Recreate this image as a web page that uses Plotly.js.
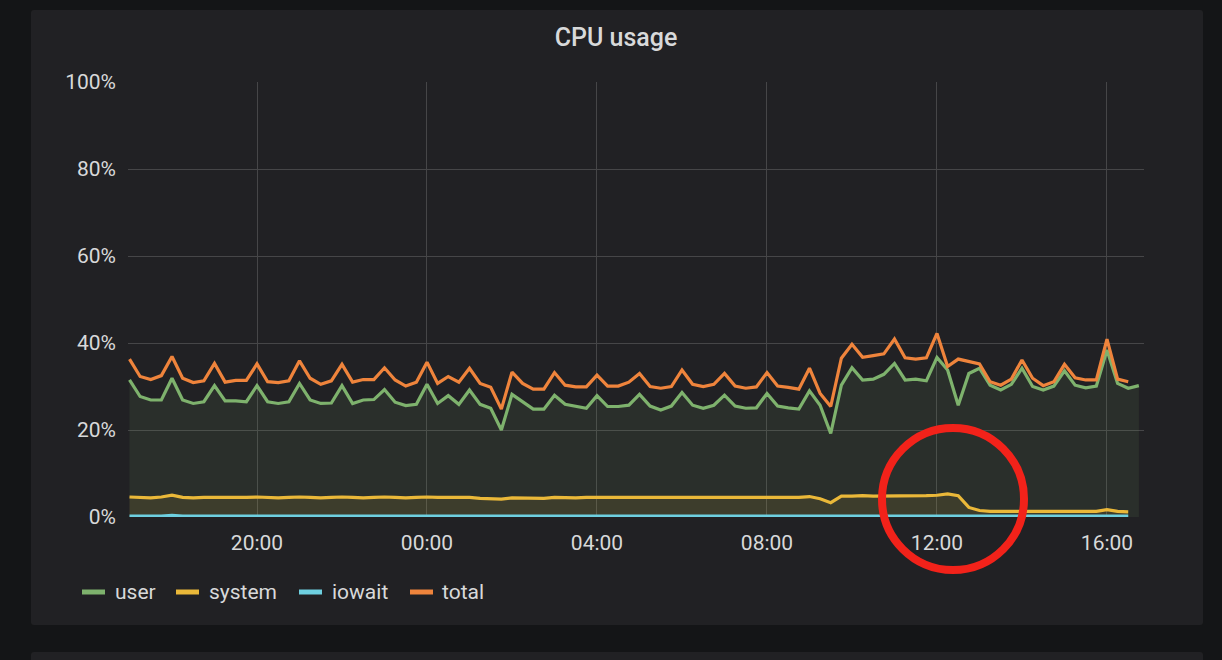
<!DOCTYPE html>
<html><head><meta charset="utf-8">
<script src="https://cdn.plot.ly/plotly-3.0.1.min.js"></script>
<style>
html,body{margin:0;padding:0;background:#141517;width:1222px;height:660px;overflow:hidden}
#panel{position:absolute;left:31px;top:10px;width:1172px;height:615px;background:#212124;border-radius:3px}
#panel2{position:absolute;left:31px;top:652px;width:1172px;height:40px;background:#212124;border-radius:3px}
#chart{position:absolute;left:0;top:0;width:1222px;height:660px}
</style></head><body>
<div id="panel"></div><div id="panel2"></div><div id="chart"></div>
<script>
// ---- data (percent), one sample every 15 minutes starting 17:00 ----
const seriesNames = ["user", "system", "iowait", "total"];
const seriesColors = ["#7EB26D", "#EAB839", "#6ED0E0", "#EF843C"];

const user = [
31.5,27.7,26.9,26.9,31.9,26.9,26.1,26.5,30.2,26.7,26.7,26.5,30.2,26.5,26.1,26.5,
30.7,26.9,26.1,26.2,30.2,26.1,26.9,27.0,29.3,26.4,25.6,25.9,30.5,26.1,27.9,25.9,
29.2,25.9,25.0,20.0,28.2,26.5,24.8,24.8,28.0,25.9,25.4,25.0,27.9,25.4,25.4,25.7,
28.2,25.5,24.6,25.5,28.6,25.7,25.0,25.7,28.0,25.5,25.0,25.1,28.4,25.5,25.1,24.8,
29.0,25.7,19.2,30.3,34.3,31.5,31.7,32.8,35.3,31.5,31.7,31.3,36.7,33.8,25.7,33.0,
34.2,30.3,29.2,30.5,34.2,30.0,29.2,30.1,33.6,30.3,29.7,30.1,38.4,30.7,29.6,30.2];

const total = [
36.3,32.3,31.6,32.5,36.9,31.9,30.9,31.3,35.3,31.0,31.4,31.4,35.2,31.1,30.9,31.3,
35.9,31.9,30.5,31.3,35.1,31.0,31.6,31.6,34.3,31.5,30.1,31.0,35.6,30.7,32.3,31.0,
34.2,30.7,29.8,24.8,33.3,30.7,29.4,29.4,33.2,30.3,29.9,29.9,32.6,30.1,30.1,31.0,
33.0,30.0,29.6,30.0,33.8,30.5,30.0,30.5,33.0,30.1,29.6,29.9,33.2,30.1,29.8,29.4,
34.2,28.4,25.4,36.5,39.7,36.7,37.1,37.5,40.9,36.6,36.3,36.6,42.2,34.6,36.3,35.7,
35.2,31.1,30.3,31.7,36.1,31.9,30.2,31.1,35.1,32.0,31.5,31.5,40.9,31.7,31.1];

const system = [
4.6,4.5,4.4,4.6,5.0,4.5,4.4,4.5,4.5,4.4,4.5,4.5,4.6,4.5,4.4,4.5,
4.6,4.5,4.4,4.5,4.6,4.5,4.4,4.5,4.6,4.5,4.4,4.5,4.6,4.5,4.5,4.4,
4.5,4.3,4.2,4.1,4.4,4.4,4.3,4.3,4.5,4.4,4.4,4.5,4.5,4.4,4.4,4.5,
4.5,4.4,4.4,4.4,4.5,4.4,4.4,4.5,4.5,4.4,4.4,4.4,4.5,4.4,4.4,4.5,
4.7,4.2,3.3,4.8,4.8,4.9,4.8,4.8,4.8,4.8,4.8,4.9,5.0,5.3,4.9,2.2,
1.5,1.3,1.3,1.3,1.3,1.3,1.3,1.4,1.3,1.3,1.3,1.3,1.7,1.3,1.2];

const iowait = [
0.2,0.2,0.2,0.2,0.4,0.2,0.2,0.2,0.2,0.2,0.2,0.2,0.2,0.2,0.2,0.2,
0.2,0.2,0.2,0.2,0.2,0.2,0.2,0.2,0.2,0.2,0.2,0.2,0.2,0.2,0.2,0.2,
0.2,0.2,0.2,0.2,0.2,0.2,0.2,0.2,0.2,0.2,0.2,0.2,0.2,0.2,0.2,0.2,
0.2,0.2,0.2,0.2,0.2,0.2,0.2,0.2,0.2,0.2,0.2,0.2,0.2,0.2,0.2,0.2,
0.2,0.35,0.35,0.2,0.2,0.2,0.2,0.2,0.2,0.2,0.2,0.2,0.3,0.2,0.3,0.2,
0.2,0.2,0.2,0.2,0.2,0.2,0.2,0.2,0.2,0.2,0.2,0.2,0.3,0.2,0.2];

const yTickVals = [0, 20, 40, 60, 80, 100];
const yTickText = ["0%", "20%", "40%", "60%", "80%", "100%"];

// timestamps
function pad(n){return (n<10?"0":"")+n;}
function stamp(i){
  const m = 17*60 + 15*i;
  const d = 11 + Math.floor(m/1440);
  const mm = m % 1440;
  return "2019-03-" + pad(d) + " " + pad(Math.floor(mm/60)) + ":" + pad(mm%60);
}
function times(n){const a=[];for(let i=0;i<n;i++)a.push(stamp(i));return a;}

function fillOf(hex){
  const r=parseInt(hex.slice(1,3),16),g=parseInt(hex.slice(3,5),16),b=parseInt(hex.slice(5,7),16);
  return "rgba("+r+","+g+","+b+",0.1)";
}

const values = [user, system, iowait, total];
const traces = values.map((v, i) => ({
  type: "scatter", mode: "lines", name: seriesNames[i],
  x: times(v.length), y: v,
  line: {color: seriesColors[i], width: 3.2},
  fill: i < 3 ? "tozeroy" : "none",
  fillcolor: fillOf(seriesColors[i]),
  showlegend: false, hoverinfo: "skip"
}));

// plot area in pixels
const L = 128, R = 1144, T = 82, B = 517;
const W = R - L, H = B - T;
const px = x => (x - L) / W;
const py = y => (B - y) / H;

const textColor = "#d8d9da";
const font = "Roboto, 'Open Sans', sans-serif";

// custom legend
const legX = [82, 176, 299, 410];
const legTX = [113, 207, 330, 440];
const legY = 592;
const shapes = [];
const annotations = [];
seriesNames.forEach((n, i) => {
  shapes.push({type: "rect", xref: "paper", yref: "paper",
    xsizemode: "pixel", ysizemode: "pixel",
    xanchor: px(legX[i]), yanchor: py(legY),
    x0: 0, x1: 23, y0: -2.5, y1: 2.5,
    fillcolor: seriesColors[i], line: {width: 0}});
  annotations.push({xref: "paper", yref: "paper", x: px(legTX[i]), y: py(legY),
    xanchor: "left", yanchor: "middle", showarrow: false, text: n,
    font: {family: font, size: 21, color: textColor}});
});
// red highlight ring
shapes.push({type: "circle", xref: "paper", yref: "paper",
  xsizemode: "pixel", ysizemode: "pixel",
  xanchor: px(953), yanchor: py(499),
  x0: -71, x1: 71, y0: -71, y1: 71,
  line: {color: "#f2221a", width: 8}, layer: "above"});

const layout = {
  width: 1222, height: 660,
  margin: {l: L, r: 1222 - R, t: T, b: 660 - B, pad: 0},
  paper_bgcolor: "rgba(0,0,0,0)", plot_bgcolor: "rgba(0,0,0,0)",
  font: {family: font, color: textColor, size: 21},
  title: {text: "CPU usage", x: 616/1222, xref: "container", xanchor: "center",
          y: 1 - 37/660, yref: "container", yanchor: "middle",
          font: {family: font, size: 25, color: textColor, weight: 500}},
  xaxis: {type: "date", range: ["2019-03-11 16:57:53", "2019-03-12 16:52:16"],
          tickformat: "%H:%M", dtick: 4*3600*1000, tick0: "2019-03-11 00:00",
          showgrid: true, gridcolor: "#464648", gridwidth: 1, zeroline: false,
          showline: false, ticks: "", ticklabelstandoff: 11,
          tickfont: {family: font, size: 21, color: textColor}},
  yaxis: {range: [0, 100], tickmode: "array", tickvals: yTickVals, ticktext: yTickText,
          showgrid: true, gridcolor: "#464648", gridwidth: 1, zeroline: false,
          showline: false, ticks: "", ticklabelstandoff: 11,
          tickfont: {family: font, size: 21, color: textColor}},
  shapes: shapes, annotations: annotations
};

Plotly.newPlot("chart", traces, layout, {staticPlot: true, displayModeBar: false});
</script></body></html>
